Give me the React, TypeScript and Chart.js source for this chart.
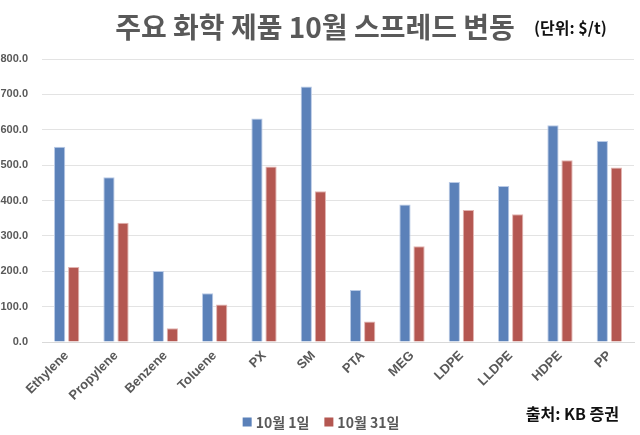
import React, { useEffect, useRef } from 'react';
import { Chart, registerables } from 'chart.js';

Chart.register(...registerables);

const categories = ['Ethylene', 'Propylene', 'Benzene', 'Toluene', 'PX', 'SM', 'PTA', 'MEG', 'LDPE', 'LLDPE', 'HDPE', 'PP'];
const oct1Values = [552, 466, 201, 138, 632, 722, 147, 389, 452, 441, 613, 568];
const oct31Values = [212, 337, 39, 106, 496, 426, 58, 271, 373, 361, 514, 493];
const seriesLabels = ['10월 1일', '10월 31일'];
const titleText = '주요 화학 제품 10월 스프레드 변동';
const unitText = '(단위: $/t)';
const sourceText = '출처: KB 증권';

const FONT = "'Liberation Sans', 'Noto Sans CJK KR', sans-serif";
const KFONT = "'Noto Sans CJK KR', 'Liberation Sans', sans-serif";

const blue = '#5B81B9';
const red = '#B45751';

const overlayPlugin = {
  id: 'overlay',
  afterDraw(chart: any) {
    const ctx = chart.ctx as CanvasRenderingContext2D;
    ctx.save();
    // title
    ctx.fillStyle = '#595959';
    ctx.font = `bold 28px ${KFONT}`;
    ctx.textAlign = 'center';
    ctx.textBaseline = 'middle';
    ctx.fillText(titleText, 315, 27);
    // unit
    ctx.fillStyle = '#111111';
    ctx.font = `bold 16px ${KFONT}`;
    ctx.textAlign = 'left';
    ctx.fillText(unitText, 534, 28);
    // source
    ctx.font = `bold 16px ${KFONT}`;
    ctx.textAlign = 'right';
    ctx.fillText(sourceText, 619, 414);
    // legend
    ctx.font = `bold 14px ${KFONT}`;
    ctx.textAlign = 'left';
    const datasets = chart.data.datasets;
    const box = 9;
    const gapBoxText = 4;
    const gapItems = 15;
    const widths = datasets.map((d: any) => box + gapBoxText + ctx.measureText(d.label).width);
    const total = widths.reduce((a: number, b: number) => a + b, 0) + gapItems * (datasets.length - 1);
    let x = 321 - total / 2;
    const y = 422;
    datasets.forEach((d: any, i: number) => {
      ctx.fillStyle = d.backgroundColor;
      ctx.fillRect(x, y - box / 2, box, box);
      ctx.fillStyle = '#595959';
      ctx.fillText(d.label, x + box + gapBoxText, y + 1);
      x += widths[i] + gapItems;
    });
    ctx.restore();
  },
};

export default function App() {
  const canvasRef = useRef<HTMLCanvasElement | null>(null);

  useEffect(() => {
    document.body.style.margin = '0';
    const canvas = canvasRef.current;
    if (!canvas) return;
    const chart = new Chart(canvas, {
      type: 'bar',
      data: {
        labels: categories,
        datasets: [
          {
            label: seriesLabels[0],
            data: oct1Values,
            backgroundColor: blue,
            borderColor: '#B9CAE6',
            borderWidth: 1,
            categoryPercentage: 0.57,
            barPercentage: 0.8,
          },
          {
            label: seriesLabels[1],
            data: oct31Values,
            backgroundColor: red,
            borderColor: '#E2B3B0',
            borderWidth: 1,
            categoryPercentage: 0.57,
            barPercentage: 0.8,
          },
        ],
      },
      options: {
        responsive: false,
        animation: false,
        layout: { padding: { top: 59, right: 6, bottom: 0, left: 0 } },
        plugins: {
          legend: { display: false },
          title: { display: false },
          tooltip: { enabled: false },
        },
        scales: {
          x: {
            grid: { display: false, drawTicks: false },
            border: { display: true, color: '#D9D9D9', width: 1 },
            ticks: {
              color: '#595959',
              font: { family: FONT, size: 13, weight: 'bold' },
              maxRotation: 45,
              minRotation: 45,
              padding: 6,
              autoSkip: false,
            },
            afterFit(scale: any) {
              scale.height = 93;
            },
          },
          y: {
            min: 0,
            max: 800,
            grid: { color: '#E3E3E3', lineWidth: 1, drawTicks: false },
            border: { display: false },
            ticks: {
              stepSize: 100,
              color: '#595959',
              font: { family: FONT, size: 11, weight: 'bold' },
              padding: 14,
              callback: (v: any) => Number(v).toFixed(1),
            },
            afterFit(scale: any) {
              scale.width = 42;
            },
          },
        },
      },
      plugins: [overlayPlugin],
    });
    return () => chart.destroy();
  }, []);

  return (
    <div style={{ width: 640, height: 435, background: '#fff' }}>
      <canvas ref={canvasRef} width={640} height={435} style={{ display: 'block' }} />
    </div>
  );
}
